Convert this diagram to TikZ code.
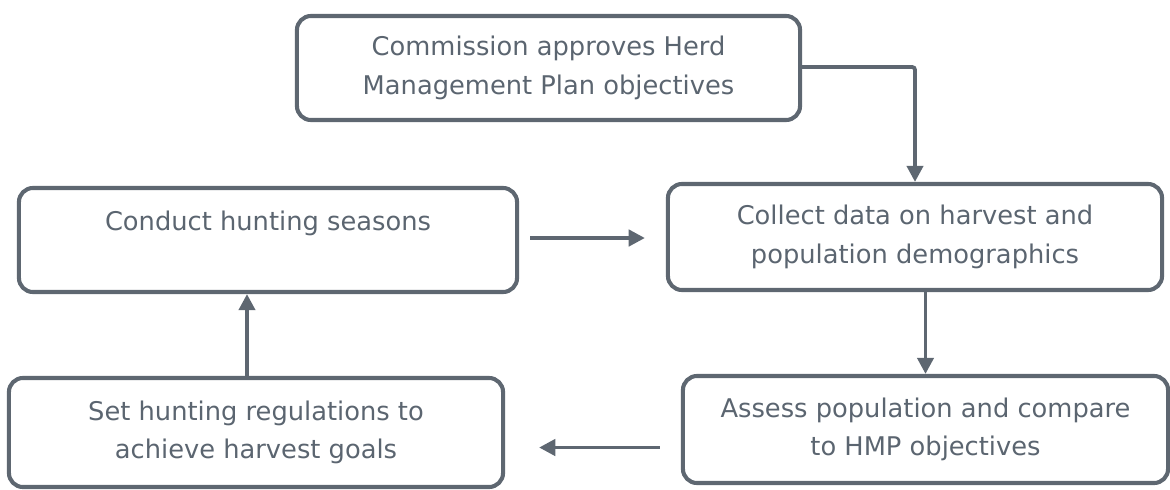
\documentclass[tikz,border=0pt]{standalone}
\usepackage{fontspec}
\setmainfont{DejaVu Sans}
\usetikzlibrary{arrows.meta}
\definecolor{slate}{HTML}{5E6771}
\definecolor{slatetext}{HTML}{5B6570}
\begin{document}
\begin{tikzpicture}[
    x=0.025cm, y=-0.025cm,
    stage/.style={draw=slate, line width=2.9pt, rounded corners=10pt, align=center,
        text=slatetext, font=\fontsize{18.3}{27.5}\selectfont},
    flow/.style={draw=slate, line width=2.7pt, -{Triangle[length=11.5pt, width=11.5pt]}}
]
    \useasboundingbox (0,0) rectangle (1170,489);

    % stages of the cycle
    \node[stage, minimum width=12.575cm, minimum height=2.6cm] (approve) at (548.5,68)
        {Commission approves Herd\\Management Plan objectives};
    \node[stage, minimum width=12.35cm, minimum height=2.65cm] (collect) at (915,237)
        {Collect data on harvest and\\population demographics};
    \node[stage, minimum width=12.45cm, minimum height=2.6cm] (seasons) at (268,240)
        {Conduct hunting seasons\\\mbox{}};
    \node[stage, minimum width=12.125cm, minimum height=2.675cm] (assess) at (925.5,429.5)
        {Assess population and compare\\to HMP objectives};
    \node[stage, minimum width=12.35cm, minimum height=2.725cm] (regs) at (256,432.5)
        {Set hunting regulations to\\achieve harvest goals};

    % connectors
    \draw[flow, rounded corners=2pt] ([yshift=0.025cm]approve.east) -| (collect.north);
    \draw[flow, shorten <=0.275cm, shorten >=0.525cm]
        ([yshift=0.05cm]seasons.east) -- ([yshift=0.05cm]seasons.east -| collect.west);
    \draw[flow] (assess.north |- collect.south) -- (assess.north);
    \coordinate (assess-out) at ([yshift=-0.45cm]assess.west);
    \draw[flow, shorten <=0.525cm, shorten >=0.85cm] (assess-out) -- (assess-out -| regs.east);
    \coordinate (regs-out) at ([xshift=-0.225cm]regs.north);
    \draw[flow] (regs-out) -- (regs-out |- seasons.south);
\end{tikzpicture}
\end{document}
